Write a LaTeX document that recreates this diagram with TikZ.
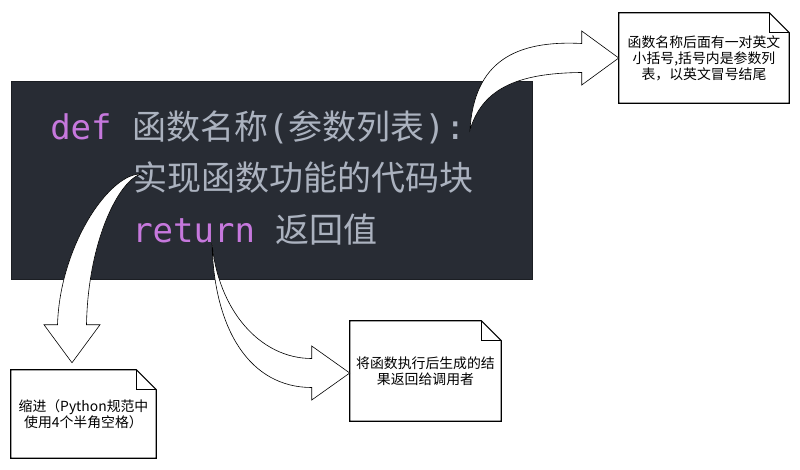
\documentclass[tikz,border=0pt]{standalone}
\usepackage{fontspec}
\usetikzlibrary{calc}
\newfontfamily\cjk{Noto Sans CJK SC}
\newfontfamily\mono{DejaVu Sans Mono}
\definecolor{codebg}{HTML}{282C34}
\definecolor{codeframe}{HTML}{1B1E23}
\definecolor{kw}{HTML}{C678DD}
\definecolor{codetxt}{HTML}{ABB2BF}
\pgfdeclarelayer{notelayer}
\pgfsetlayers{notelayer,main}
\tikzset{
  codeline/.style={anchor=base west, inner sep=0pt, text=codetxt},
  notebox/.style={inner sep=0pt, align=center, font=\cjk\fontsize{10.4pt}{12pt}\selectfont},
  noteline/.style={draw=black, line width=0.8pt, fill=white, line join=miter},
  flexarrow/.style={draw=black, line width=0.45pt, fill=white, line join=miter},
}
\newcommand\codesize{\fontsize{25.5pt}{30pt}\selectfont}
\newcommand\cjksize{\fontsize{25.5pt}{30pt}\selectfont}
\newcommand\drawnote[1]{%
  \draw[noteline] (#1.north west) -- ([xshift=-15pt]#1.north east) -- ([yshift=-15pt]#1.north east) -- (#1.south east) -- (#1.south west) -- cycle;
  \draw[noteline, fill=none] ([xshift=-15pt]#1.north east) -- ([xshift=-15pt,yshift=-15pt]#1.north east) -- ([yshift=-15pt]#1.north east);
}
\begin{document}
\begin{tikzpicture}[x=0.75pt, y=-0.75pt]
\useasboundingbox (0,0) rectangle (800,469);
\begin{pgfonlayer}{notelayer}
\fill[white] (0,0) rectangle (800,469);
\end{pgfonlayer}

% code panel
\draw[fill=codebg, draw=codeframe, line width=0.6pt] (11,81) rectangle (532,279);
\node[codeline] (l1) at (50,139) {{\mono\codesize\color{kw}def\ }{\cjk\cjksize 函数名称}{\mono\codesize(}{\cjk\cjksize 参数列表}{\mono\codesize):}};
\node[codeline] (l2) at (133,190.5) {{\cjk\cjksize 实现函数功能的代码块}};
\node[codeline] (l3) at (132,242) {{\mono\codesize\color{kw}return\ }{\cjk\cjksize 返回值}};

% notes
\node[notebox, minimum width=127.5pt, minimum height=67.5pt] (n1) at (704,58)
  {函数名称后面有一对英文\\小括号,括号内是参数列\\表，以英文冒号结尾};
\node[notebox, minimum width=108.75pt, minimum height=66pt] (n2) at (83.5,414)
  {缩进（Python规范中\\使用4个半角空格）};
\node[notebox, minimum width=113.25pt, minimum height=75pt] (n3) at (425.5,371)
  {将函数执行后生成的结\\果返回给调用者};
\begin{pgfonlayer}{notelayer}
\drawnote{n1}
\drawnote{n2}
\drawnote{n3}
\end{pgfonlayer}

% arrow tails and tips
\coordinate (T1) at (470,130);
\coordinate (T2) at (142,174);
\coordinate (T3) at (212,243);
\coordinate (H1) at (n1.west);
\coordinate (H2) at ($(n2.north)+(-11.5,-7)$);
\coordinate (H3) at ($(n3.west)+(0,2)$);

% arrow 1
\draw[flexarrow] (T1) .. controls (482,90) and (515,73) .. ($(H1)+(-37,14.5)$)
  -- ($(H1)+(-37,27)$) -- (H1) -- ($(H1)+(-37,-27)$) -- ($(H1)+(-37,-14.5)$)
  .. controls (515,40) and (474,62) .. (T1) -- cycle;
% arrow 2
\draw[flexarrow] (T2) .. controls (110,172) and (60,245) .. ($(H2)+(-14.5,-38)$)
  -- ($(H2)+(-28,-38)$) -- (H2) -- ($(H2)+(28,-38)$) -- ($(H2)+(14.5,-38)$)
  .. controls (88,240) and (120,178) .. (T2) -- cycle;
% arrow 3
\draw[flexarrow] (T3) .. controls (218,310) and (260,358.5) .. ($(H3)+(-38,-14.5)$)
  -- ($(H3)+(-38,-27)$) -- (H3) -- ($(H3)+(-38,27)$) -- ($(H3)+(-38,14.5)$)
  .. controls (250,387.5) and (214,330) .. (T3) -- cycle;
\end{tikzpicture}
\end{document}
